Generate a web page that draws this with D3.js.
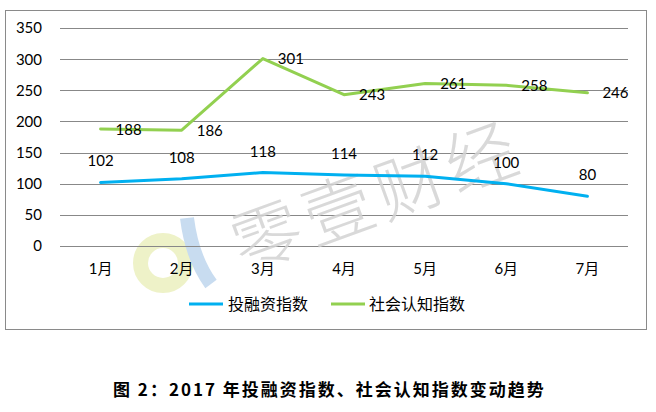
<!DOCTYPE html>
<html><head><meta charset="utf-8">
<script src="https://cdn.jsdelivr.net/npm/d3@7"></script>
<style>
html,body{margin:0;padding:0;background:#fff;}
svg{display:block;}
</style></head>
<body>
<script>
const months = ["1月","2月","3月","4月","5月","6月","7月"];
const investIndex = [102,108,118,114,112,100,80];
const socialIndex = [188,186,301,243,261,258,246];
const yTicks = [0,50,100,150,200,250,300,350];
const seriesNames = ["投融资指数","社会认知指数"];
const seriesColors = ["#00B0F0","#92D050"];
const caption = "图 2：2017 年投融资指数、社会认知指数变动趋势";
const watermark = "零壹财经";

const W = 656, H = 412;
const svg = d3.select("body").append("svg").attr("width", W).attr("height", H);
const numFont = "Lato, 'Noto Sans', sans-serif";
const cjkFont = "'Noto Sans CJK SC', Lato, sans-serif";

// frame
svg.append("rect").attr("x",5.5).attr("y",10.5).attr("width",641).attr("height",319)
  .attr("fill","#fff").attr("stroke","#8a8a8a").attr("stroke-width",1);

const x = d3.scaleBand().domain(months).range([60,628]);
const y = d3.scaleLinear().domain([0,350]).range([246,28]);
const cx = m => x(m) + x.bandwidth()/2;

// logo (decorative watermark)
const logo = svg.append("g");
logo.append("circle").attr("cx",163).attr("cy",263).attr("r",22.5)
  .attr("fill","none").attr("stroke","#EEF2C8").attr("stroke-width",15);
logo.append("path").attr("d","M187,218 Q192,258 211,284")
  .attr("fill","none").attr("stroke","#C8DCF0").attr("stroke-width",14);

// gridlines
svg.append("g").selectAll("line").data(yTicks).join("line")
  .attr("x1",60).attr("x2",628)
  .attr("y1",d=>Math.round(y(d))+0.5).attr("y2",d=>Math.round(y(d))+0.5)
  .attr("stroke","#888").attr("stroke-width",1);

// watermark text
svg.append("text").attr("transform","translate(375,191) rotate(-20)")
  .attr("text-anchor","middle").attr("dominant-baseline","central")
  .attr("font-family",cjkFont).attr("font-size",70).attr("font-weight",300)
  .attr("letter-spacing",6)
  .attr("fill","#d2d2d2").attr("fill-opacity",0.85)
  .text(watermark);

// y axis labels
svg.append("g").selectAll("text").data(yTicks).join("text")
  .attr("x",42).attr("y",d=>y(d)).attr("dy","0.36em").attr("text-anchor","end")
  .attr("font-family",numFont).attr("font-size",15).attr("fill","#000")
  .text(d=>d);

// x axis labels
svg.append("g").selectAll("text").data(months).join("text")
  .attr("x",d=>cx(d)).attr("y",274).attr("text-anchor","middle")
  .attr("font-family",numFont + ", 'Noto Sans CJK SC'").attr("font-size",15).attr("fill","#000")
  .text(d=>d);

// lines
const line = d3.line().x((d,i)=>cx(months[i])).y(d=>y(d));
[investIndex, socialIndex].forEach((vals,k)=>{
  svg.append("path").datum(vals).attr("d",line)
    .attr("fill","none").attr("stroke",seriesColors[k]).attr("stroke-width",3)
    .attr("stroke-linejoin","round").attr("stroke-linecap","round");
});

// data labels
svg.append("g").selectAll("text").data(investIndex).join("text")
  .attr("x",(d,i)=>cx(months[i])).attr("y",d=>y(d)-16).attr("text-anchor","middle")
  .attr("font-family",numFont).attr("font-size",15).attr("fill","#000").text(d=>d);
svg.append("g").selectAll("text").data(socialIndex).join("text")
  .attr("x",(d,i)=>cx(months[i])+15).attr("y",d=>y(d)).attr("dy","0.38em")
  .attr("font-family",numFont).attr("font-size",15).attr("fill","#000").text(d=>d);

// legend
const legendItems = [{x:189, tx:228},{x:331, tx:369}];
legendItems.forEach((it,k)=>{
  svg.append("line").attr("x1",it.x).attr("x2",it.x+34).attr("y1",304).attr("y2",304)
    .attr("stroke",seriesColors[k]).attr("stroke-width",3);
  svg.append("text").attr("x",it.tx).attr("y",304).attr("dy","0.36em")
    .attr("font-family",cjkFont).attr("font-size",16).attr("fill","#000")
    .text(seriesNames[k]);
});

// caption
svg.append("text").attr("x",113).attr("y",396)
  .attr("font-family",cjkFont).attr("font-size",17).attr("font-weight","bold")
  .attr("letter-spacing",2).attr("fill","#000").text(caption);
</script>
</body></html>
